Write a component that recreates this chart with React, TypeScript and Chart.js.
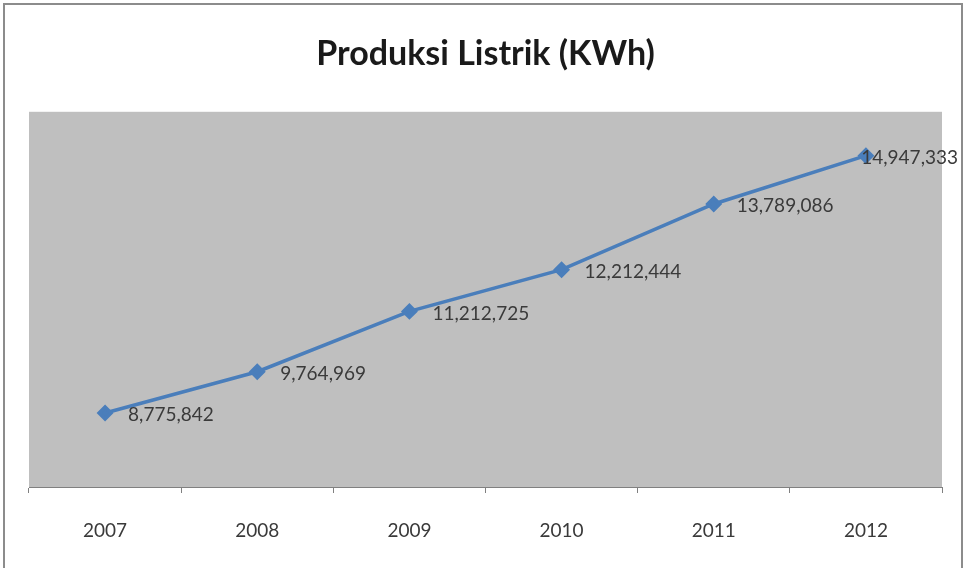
import React, { useEffect, useRef } from "react";
import { Chart, registerables } from "chart.js";

Chart.register(...registerables);

const years = ["2007", "2008", "2009", "2010", "2011", "2012"];
const production = [8775842, 9764969, 11212725, 12212444, 13789086, 14947333];
const chartTitle = "Produksi Listrik (KWh)";

const fmt = (v: number) => v.toLocaleString("en-US");

const plotBg = {
  id: "plotBg",
  beforeDraw(chart: any) {
    const { ctx, chartArea } = chart;
    ctx.save();
    ctx.fillStyle = "#bfbfbf";
    ctx.fillRect(chartArea.left, chartArea.top, chartArea.right - chartArea.left, chartArea.bottom - chartArea.top);
    ctx.restore();
  },
};

const dataLabels = {
  id: "dataLabels",
  afterDatasetsDraw(chart: any) {
    const { ctx } = chart;
    const meta = chart.getDatasetMeta(0);
    const data = chart.data.datasets[0].data as number[];
    ctx.save();
    ctx.font = "19px Lato";
    ctx.fillStyle = "#3a3a3a";
    ctx.textBaseline = "middle";
    ctx.textAlign = "left";
    meta.data.forEach((pt: any, i: number) => {
      const text = fmt(data[i]);
      const w = ctx.measureText(text).width;
      const x = Math.min(pt.x + 23, chart.width - 12 - w);
      ctx.fillText(text, x, pt.y + 2);
    });
    ctx.restore();
  },
};

export default function App() {
  const ref = useRef<HTMLCanvasElement>(null);
  useEffect(() => {
    if (!ref.current) return;
    const chart = new Chart(ref.current, {
      type: "line",
      data: {
        labels: years,
        datasets: [
          {
            data: production,
            borderColor: "#4a7ebb",
            backgroundColor: "#4a7ebb",
            borderWidth: 3.5,
            pointStyle: "rectRot",
            pointRadius: 6,
            pointBackgroundColor: "#4a7ebb",
            pointBorderColor: "#4a7ebb",
            tension: 0,
          },
        ],
      },
      options: {
        animation: false,
        responsive: false,
        maintainAspectRatio: false,
        layout: { padding: { left: 29, right: 28, top: 0, bottom: 0 } },
        plugins: {
          legend: { display: false },
          tooltip: { enabled: false },
          title: {
            display: true,
            text: chartTitle,
            color: "#1a1a1a",
            font: { family: "Lato", size: 34, weight: "bold", lineHeight: 1.2 },
            padding: { top: 34, bottom: 37 },
          },
        },
        scales: {
          x: {
            offset: true,
            grid: {
              offset: true,
              drawOnChartArea: false,
              drawTicks: true,
              tickLength: 6,
              color: "#808080",
            },
            border: { display: true, color: "#808080", width: 1 },
            ticks: {
              color: "#3a3a3a",
              font: { family: "Lato", size: 19 },
              padding: 26,
              maxRotation: 0,
            },
            afterFit(scale: any) {
              scale.height = 81;
            },
          },
          y: {
            display: false,
            min: 7000000,
            max: 16000000,
          },
        },
      },
      plugins: [plotBg, dataLabels],
    });
    return () => chart.destroy();
  }, []);
  return (
    <div style={{ position: "fixed", left: 0, top: 0, width: 970, height: 568, background: "#fff", overflow: "hidden" }}>
      <canvas ref={ref} width={970} height={568} style={{ position: "absolute", left: 0, top: 0 }} />
      <div
        style={{
          position: "absolute",
          left: 3,
          top: 3,
          width: 956,
          height: 620,
          border: "2px solid #8c8c8c",
          pointerEvents: "none",
        }}
      />
    </div>
  );
}
